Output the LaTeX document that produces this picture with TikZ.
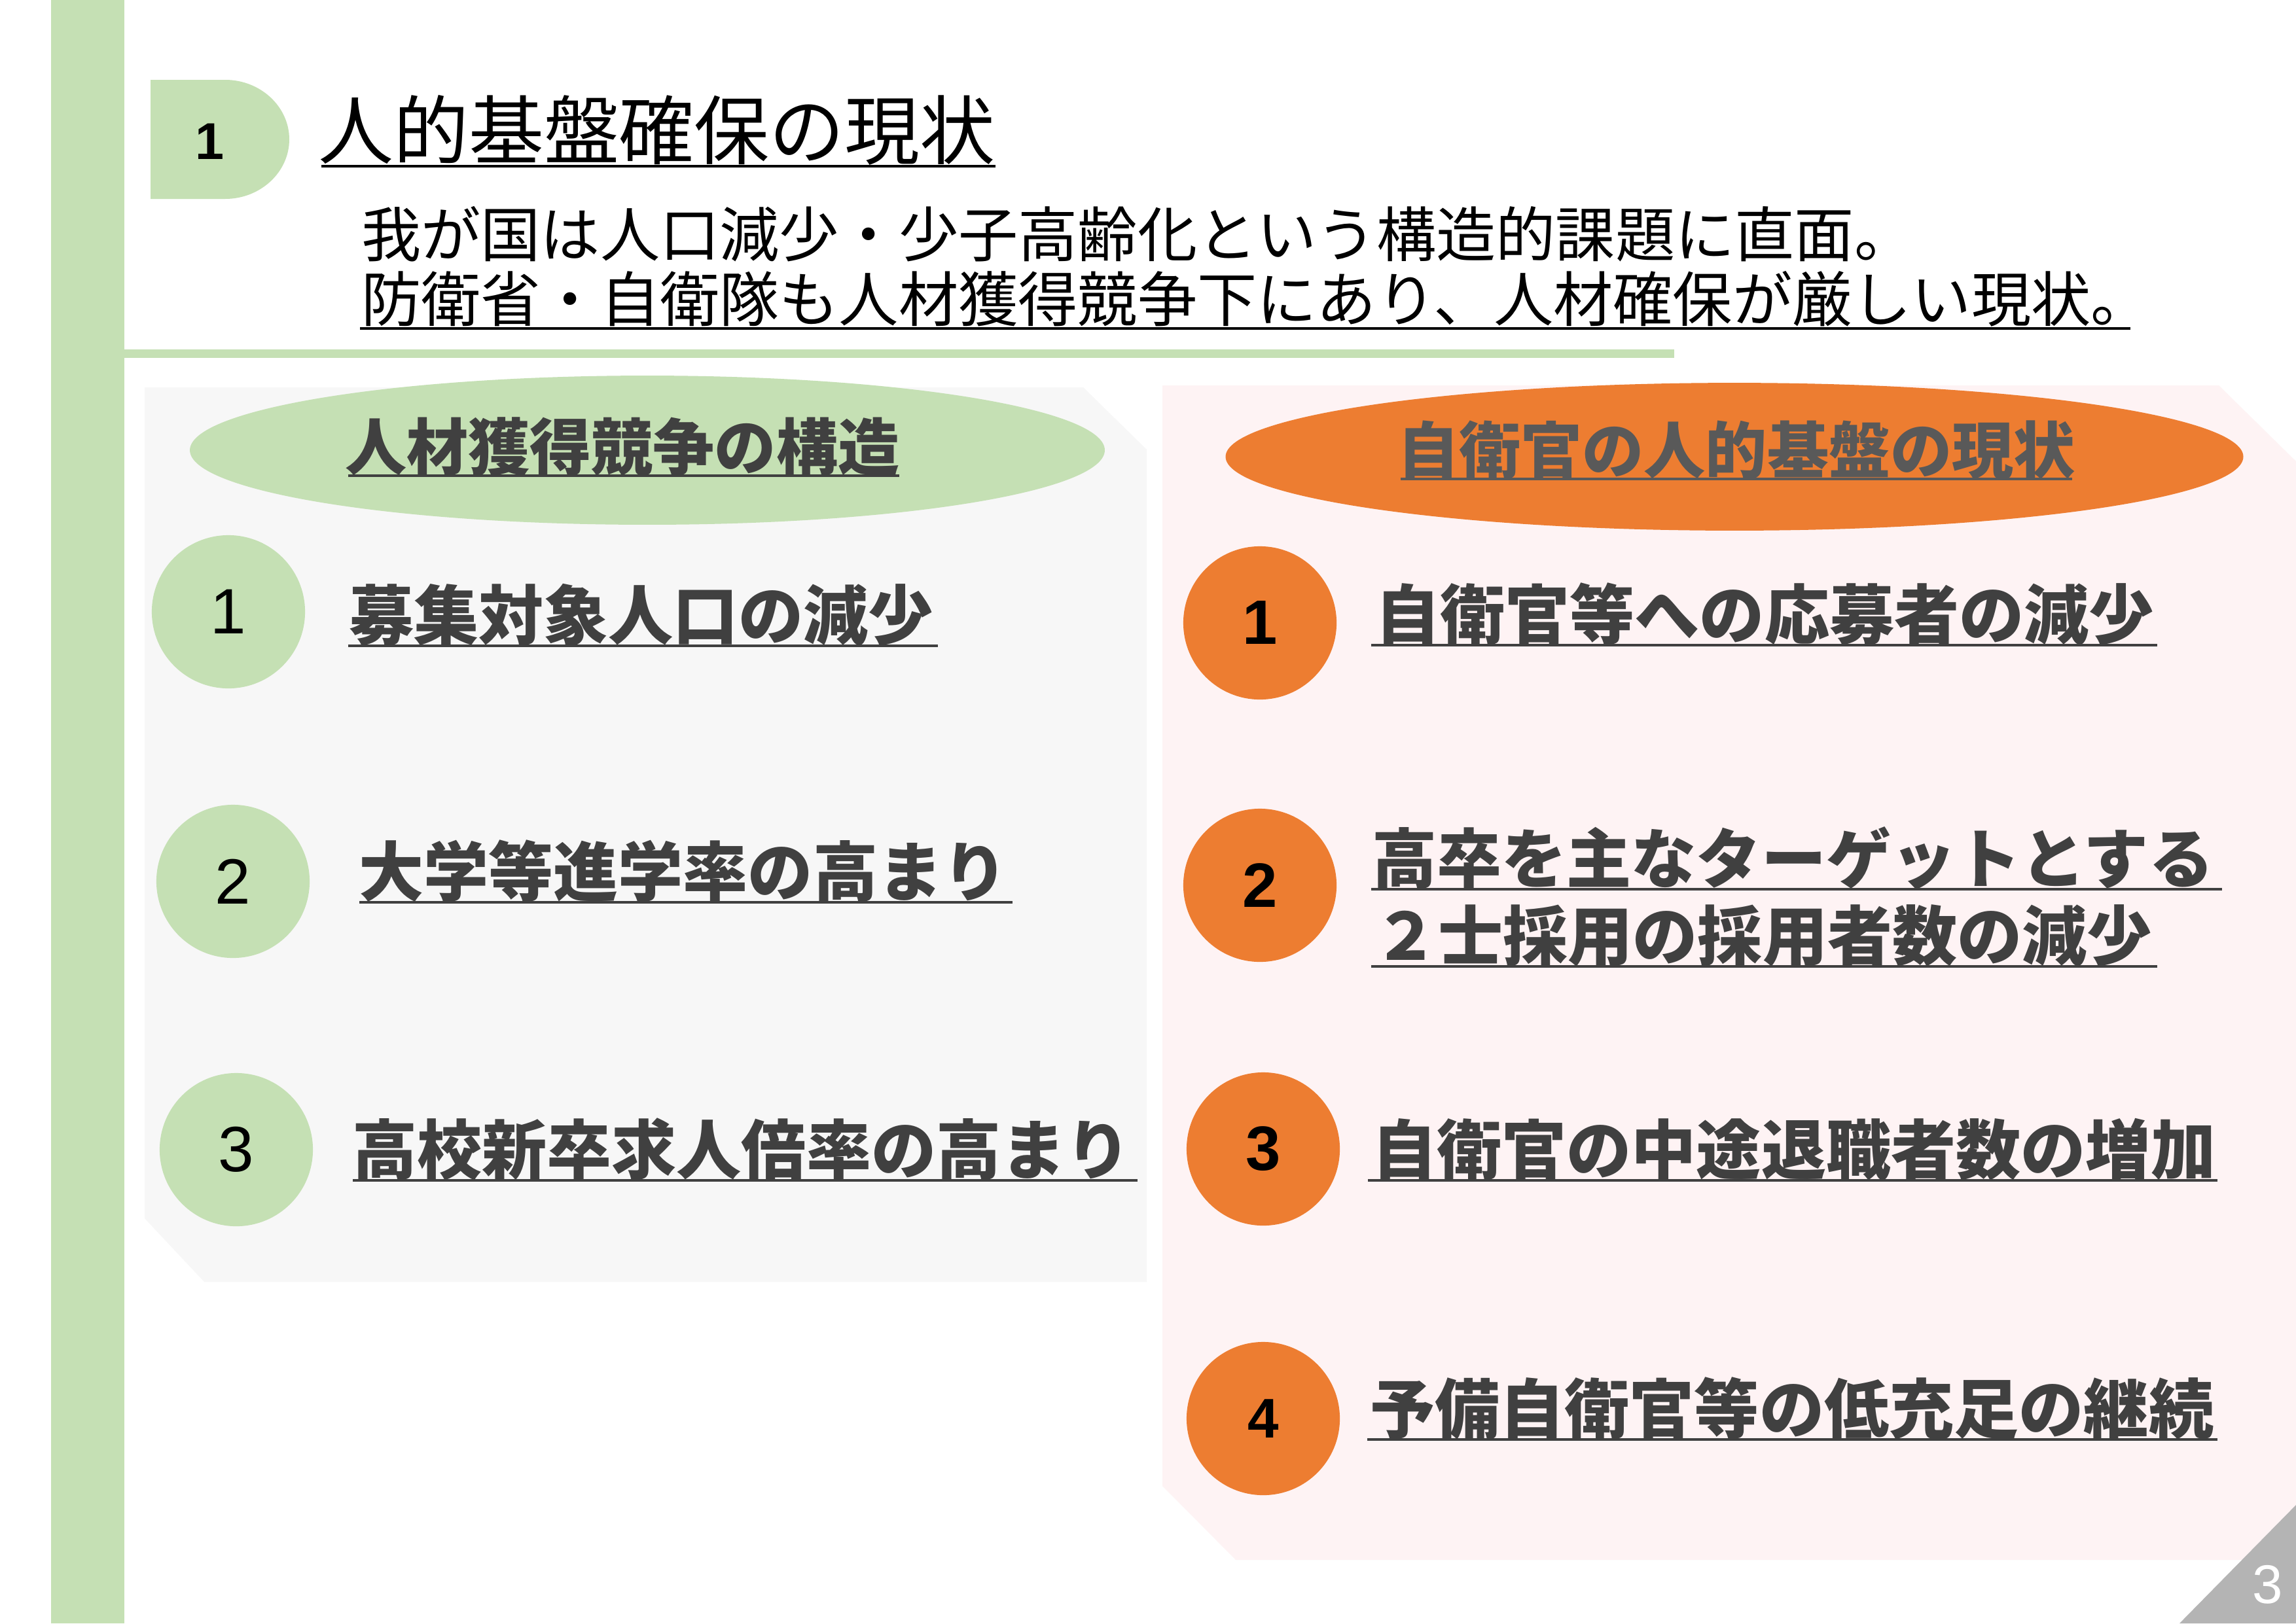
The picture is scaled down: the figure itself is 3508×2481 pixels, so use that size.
\documentclass[tikz,border=0pt]{standalone}
\usepackage{fontspec}
\setmainfont{Liberation Sans}
\newfontfamily\jp{Noto Sans CJK JP}
\usetikzlibrary{shapes.geometric}
\definecolor{lgreen}{HTML}{C5E0B4}
\definecolor{orng}{HTML}{ED7D31}
\definecolor{panelgray}{HTML}{F7F7F7}
\definecolor{panelpink}{HTML}{FEF3F4}
\definecolor{txtgray}{HTML}{404040}
\definecolor{ttlgray}{HTML}{595959}
\definecolor{pgtri}{HTML}{B4B4B4}
\tikzset{
  jptext/.style={inner sep=0pt, outer sep=0pt, anchor=base west},
  numcircle/.style={circle, minimum size=56.2pt, inner sep=0pt},
  ul/.style={line width=0.95pt, txtgray},
  ulblack/.style={line width=0.75pt, black},
  itemfont/.style={font=\jp\bfseries\fontsize{23.8pt}{23.8pt}\selectfont, text=txtgray},
  ellfont/.style={font=\jp\bfseries\fontsize{22.6pt}{22.6pt}\selectfont},
  subfont/.style={font=\jp\fontsize{21.9pt}{21.9pt}\selectfont},
}
\begin{document}
\begin{tikzpicture}[x=0.24pt,y=-0.24pt]
\useasboundingbox (0,0) rectangle (3508,2481);
\fill[white] (0,0) rectangle (3508,2481);
% left vertical bar
\fill[lgreen] (78,0) rectangle (190,2481);
% header tab
\fill[lgreen] (230,122) -- (344,122) .. controls (398,122) and (442,163) .. (442,213)
  .. controls (442,263) and (398,304) .. (344,304) -- (230,304) -- cycle;
\node[inner sep=0pt, font=\bfseries\fontsize{19pt}{19pt}\selectfont] (hnum) at (321,216) {1};
% title
\node[jptext, font=\jp\fontsize{27.6pt}{27.6pt}\selectfont] (title) at (486,242) {人的基盤確保の現状};
\draw[ulblack] (491,254) -- (1521,254);
% subtitle
\node[jptext, subfont] (sub1) at (552,392) {我が国は人口減少・少子高齢化という構造的課題に直面。};
\node[jptext, subfont] (sub2) at (552,491) {防衛省・自衛隊も人材獲得競争下にあり、人材確保が厳しい現状。};
\draw[ulblack] (550,502) -- (3255,502);
% green rule
\fill[lgreen] (190,534) rectangle (2558,547);
% panels
\fill[panelgray] (221,592) -- (1655,592) -- (1752,687) -- (1752,1959) -- (312,1959) -- (221,1862) -- cycle;
\fill[panelpink] (1776,589) -- (3390,589) -- (3508,705) -- (3508,2384) -- (1888,2384) -- (1776,2271) -- cycle;
% ellipses
\node[ellipse, fill=lgreen, minimum width=335.5pt, minimum height=54.7pt, inner sep=0pt] (lell) at (989,688) {};
\node[ellipse, fill=orng, minimum width=373.2pt, minimum height=54.2pt, inner sep=0pt] (rell) at (2650,698) {};
\node[jptext, ellfont, text=txtgray] (ltitle) at (527,718) {人材獲得競争の構造};
\draw[ul] (532,727) -- (1374,727);
\node[jptext, ellfont, text=ttlgray] (rtitle) at (2135,723) {自衛官の人的基盤の現状};
\draw[line width=0.95pt, ttlgray] (2140,732) -- (3166,732);
% left circles
\node[numcircle, fill=lgreen, font=\fontsize{23.5pt}{23.5pt}\selectfont] (lc1) at (349,935) {1};
\node[numcircle, fill=lgreen, font=\fontsize{23.5pt}{23.5pt}\selectfont] (lc2) at (356,1347) {2};
\node[numcircle, fill=lgreen, font=\fontsize{23.5pt}{23.5pt}\selectfont] (lc3) at (361,1757) {3};
% left texts
\node[jptext, itemfont] (lt1) at (533,977) {募集対象人口の減少};
\draw[ul] (532,987) -- (1433,987);
\node[jptext, itemfont] (lt2) at (548,1369) {大学等進学率の高まり};
\draw[ul] (549,1379) -- (1547,1379);
\node[jptext, itemfont] (lt3) at (538,1794) {高校新卒求人倍率の高まり};
\draw[ul] (539,1804) -- (1738,1804);
% right circles
\node[numcircle, fill=orng, font=\bfseries\fontsize{23pt}{23pt}\selectfont] (rc1) at (1925,952) {1};
\node[numcircle, fill=orng, font=\bfseries\fontsize{23pt}{23pt}\selectfont] (rc2) at (1925,1353) {2};
\node[numcircle, fill=orng, font=\bfseries\fontsize{23pt}{23pt}\selectfont] (rc3) at (1930,1756) {3};
\node[numcircle, fill=orng, font=\bfseries\fontsize{20.5pt}{20.5pt}\selectfont] (rc4) at (1930,2168) {4};
% right texts
\node[jptext, itemfont] (rt1) at (2101,976) {自衛官等への応募者の減少};
\draw[ul] (2095,986) -- (3296,986);
\node[jptext, itemfont] (rt2a) at (2096,1349) {高卒を主なターゲットとする};
\draw[ul] (2095,1359) -- (3395,1359);
\node[jptext, itemfont] (rt2b) at (2098,1467) {２士採用の採用者数の減少};
\draw[ul] (2095,1477) -- (3296,1477);
\node[jptext, itemfont] (rt3) at (2096,1794) {自衛官の中途退職者数の増加};
\draw[ul] (2090,1804) -- (3388,1804);
\node[jptext, itemfont] (rt4) at (2093,2190) {予備自衛官等の低充足の継続};
\draw[ul] (2089,2200) -- (3388,2200);
% page number
\fill[pgtri] (3330,2481) -- (3508,2481) -- (3508,2300) -- cycle;
\node[inner sep=0pt, text=white, font=\fontsize{20pt}{20pt}\selectfont] (pg) at (3465,2422) {3};
\end{tikzpicture}
\end{document}
